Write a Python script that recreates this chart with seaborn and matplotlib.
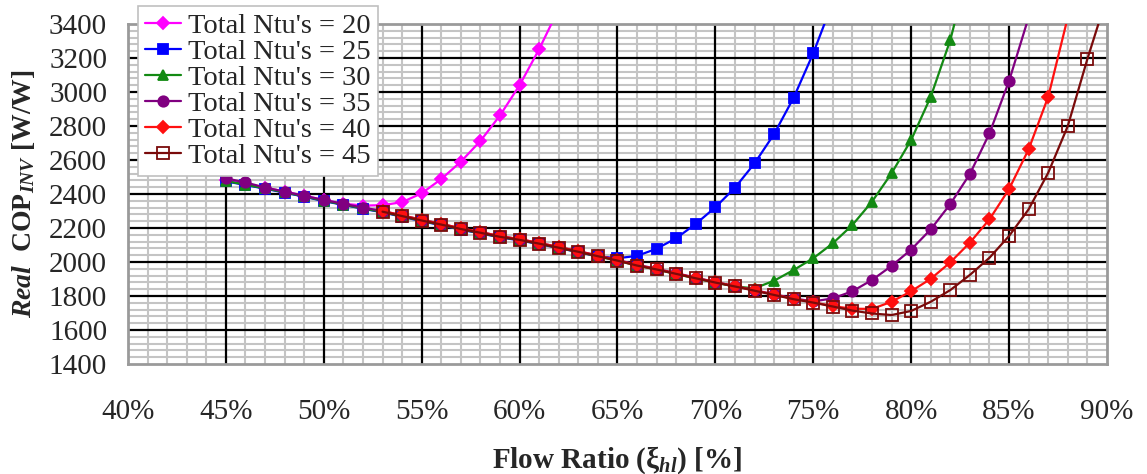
import matplotlib
matplotlib.use("Agg")
import matplotlib.pyplot as plt
import seaborn as sns

# Flow ratio [%] and Real COP_INV [W/W]
x_20 = list(range(45, 63))
cop_20 = [2482, 2460, 2438, 2414, 2390, 2365, 2343, 2332, 2334, 2352,
          2404, 2488, 2590, 2712, 2862, 3040, 3252, 3490]

x_25 = list(range(45, 77))
cop_25 = [2474, 2453, 2431, 2408, 2384, 2358, 2336, 2313, 2292, 2266,
          2240, 2216, 2190, 2168, 2145, 2127, 2105, 2082, 2058, 2033,
          2022, 2036, 2078, 2140, 2224, 2322, 2437, 2580, 2753, 2967,
          3228, 3530]

x_30 = list(range(45, 84))
cop_30 = [2476, 2455, 2433, 2410, 2386, 2360, 2338, 2315, 2294, 2268,
          2242, 2218, 2192, 2170, 2147, 2129, 2107, 2083, 2059, 2033,
          2007, 1979, 1955, 1929, 1903, 1878, 1856, 1845, 1890, 1953,
          2022, 2110, 2218, 2355, 2522, 2718, 2972, 3306, 3760]

x_35 = list(range(45, 87))
cop_35 = [2492, 2468, 2438, 2414, 2389, 2365, 2342, 2320, 2300, 2274,
          2248, 2224, 2198, 2176, 2152, 2134, 2112, 2088, 2064, 2038,
          2012, 1984, 1960, 1934, 1908, 1882, 1858, 1834, 1810, 1786,
          1768, 1786, 1828, 1894, 1977, 2073, 2192, 2341, 2518, 2757,
          3065, 3440]

x_40 = list(range(53, 89))
cop_40 = [2300, 2274, 2248, 2224, 2198, 2176, 2152, 2134, 2112, 2088,
          2063, 2037, 2010, 1981, 1958, 1932, 1906, 1881, 1858, 1833,
          1808, 1783, 1763, 1740, 1725, 1724, 1766, 1828, 1901, 1998,
          2114, 2251, 2429, 2663, 2972, 3440]

x_45 = list(range(53, 91))
cop_45 = [2296, 2270, 2244, 2220, 2194, 2172, 2148, 2130, 2108, 2084,
          2060, 2034, 2008, 1979, 1956, 1930, 1904, 1879, 1856, 1831,
          1806, 1781, 1761, 1738, 1714, 1697, 1688, 1712, 1766, 1835,
          1924, 2025, 2153, 2310, 2525, 2800, 3194, 3560]

labels = ["Total Ntu's = 20", "Total Ntu's = 25", "Total Ntu's = 30",
          "Total Ntu's = 35", "Total Ntu's = 40", "Total Ntu's = 45"]

sns.set_theme(style="white")
plt.rcParams["font.family"] = ["Liberation Serif", "DejaVu Serif"]
plt.rcParams["mathtext.fontset"] = "custom"
plt.rcParams["mathtext.rm"] = "Liberation Serif:bold"
plt.rcParams["mathtext.it"] = "Liberation Serif:bold:italic"
plt.rcParams["mathtext.bf"] = "Liberation Serif:bold"

fig, ax = plt.subplots(figsize=(11.47, 4.74), dpi=100)
fig.subplots_adjust(left=0.1116, right=0.9651, top=0.9494, bottom=0.2321)

# grid drawn by hand so the black major lines sit over the grey minor ones
for v in range(41, 90):
    if v % 5:
        ax.axvline(v, color="#c4c4c4", linewidth=1.5, zorder=0.5)
for v in range(1440, 3400, 40):
    if v % 200:
        ax.axhline(v, color="#c4c4c4", linewidth=1.5, zorder=0.5)
for v in range(45, 90, 5):
    ax.axvline(v, color="black", linewidth=1.6, zorder=0.6)
for v in range(1600, 3400, 200):
    ax.axhline(v, color="black", linewidth=1.6, zorder=0.6)

series = [
    (x_20, cop_20, "#ff00ff", "D", 6, "#ff00ff"),
    (x_25, cop_25, "#0000ff", "s", 7.5, "#0000ff"),
    (x_30, cop_30, "#138a13", "^", 7.5, "#138a13"),
    (x_35, cop_35, "#800080", "o", 7.5, "#800080"),
    (x_40, cop_40, "#ff1010", "D", 6, "#ff1010"),
    (x_45, cop_45, "#7a0a0a", "s", 8, "none"),
]
for (xs, ys, col, mk, ms, mfc), lab in zip(series, labels):
    sns.lineplot(x=xs, y=ys, ax=ax, color=col, marker=mk, markersize=ms,
                 markerfacecolor=mfc, markeredgecolor=col, markeredgewidth=1.3,
                 linewidth=1.6, label=lab, legend=False, zorder=3)

ax.set_xlim(40, 90)
ax.set_ylim(1400, 3400)
ax.set_xticks(range(40, 91, 5))
ax.set_xticklabels([f"{v}%" for v in range(40, 91, 5)])
ax.set_yticks(range(1400, 3401, 200))
ax.grid(False)
for sp in ax.spines.values():
    sp.set_color("#9a9a9a")
    sp.set_linewidth(2)

ax.tick_params(axis="x", which="major", direction="out", length=9,
               color="#b0b0b0", width=1.2, pad=16, labelsize=21)
ax.tick_params(axis="y", which="major", direction="out", length=10,
               color="#b0b0b0", width=1.2, pad=5, labelsize=21)

ax.set_xlabel(r"Flow Ratio (ξ${}_{hl}$) [%]", fontsize=21, fontweight="bold")
ax.set_ylabel(r"$\mathit{Real}$  COP$_{\mathit{INV}}$ [W/W]", fontsize=20,
              fontweight="bold")
ax.xaxis.set_label_coords(0.5, -0.235)
ax.yaxis.set_label_coords(-0.093, 0.5)

leg = ax.legend(loc="upper left", bbox_to_anchor=(0.0102, 1.053),
                borderaxespad=0, fontsize=20.5, frameon=True, fancybox=False,
                framealpha=1, edgecolor="#c0c0c0", handlelength=1.25,
                handletextpad=0.25, borderpad=0.25, labelspacing=0.0)
leg.get_frame().set_linewidth(1.2)
leg.set_zorder(5)

fig.savefig("out.png", dpi=100)
